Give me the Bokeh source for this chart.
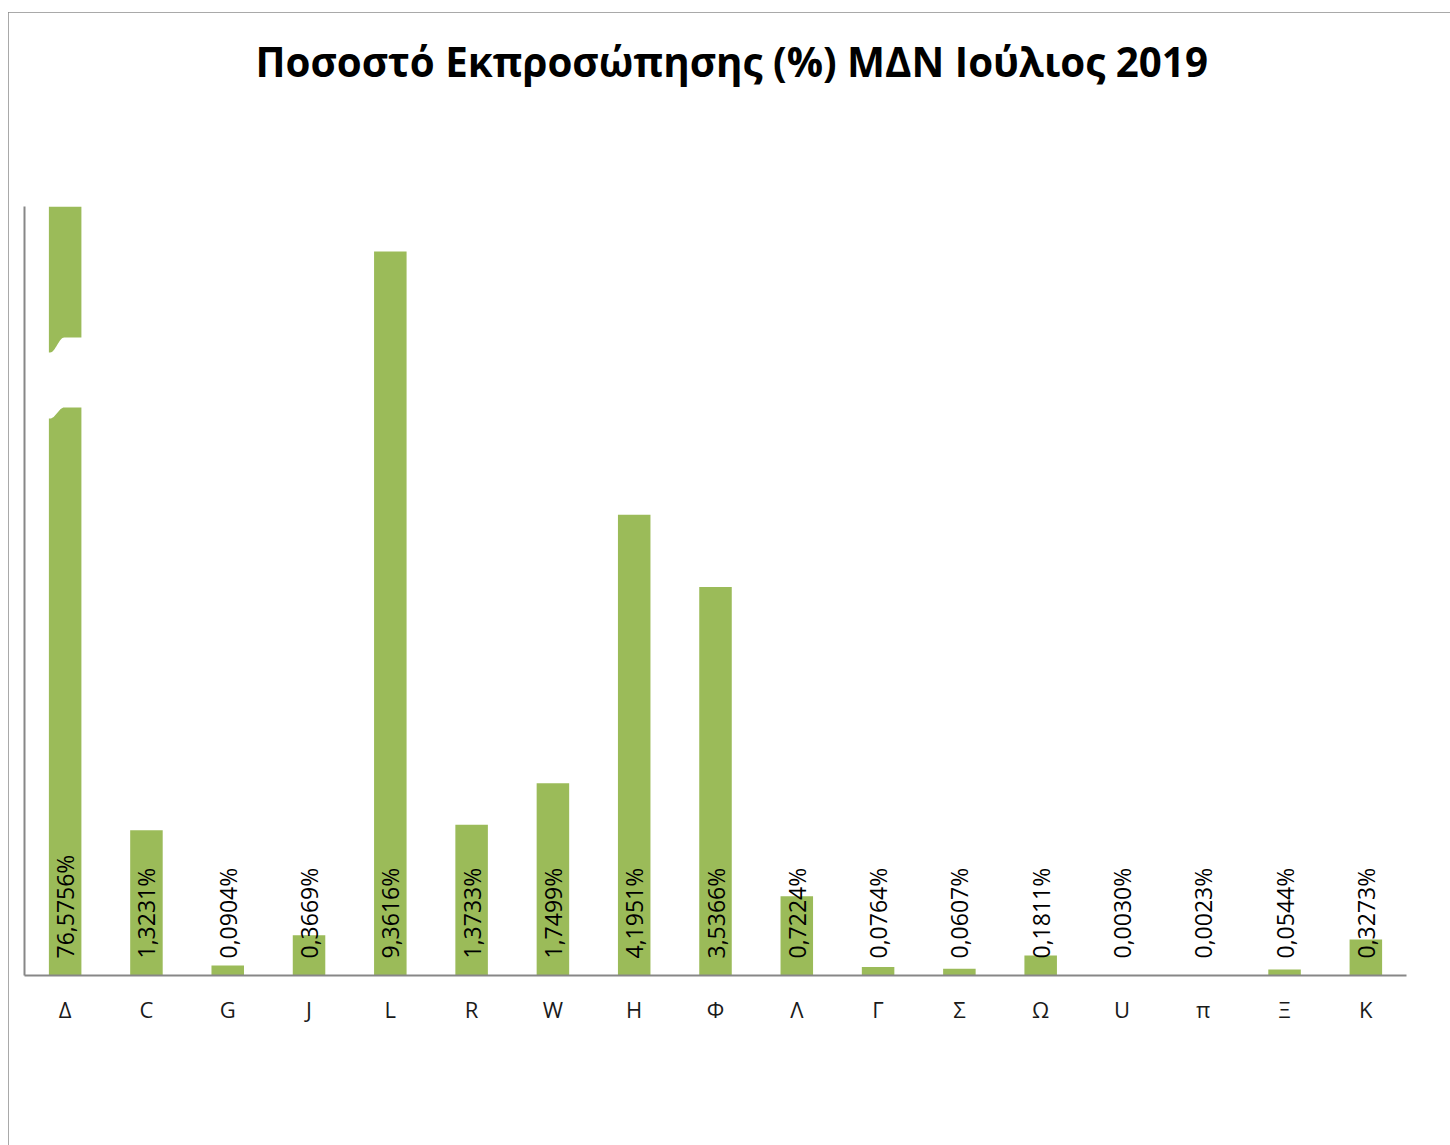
import math
from bokeh.plotting import figure
from bokeh.models import ColumnDataSource, FixedTicker, Range1d
from bokeh.core.properties import value
from bokeh.embed import file_html
from bokeh.resources import INLINE

# ---- data ----
categories = ["Δ", "C", "G", "J", "L", "R", "W", "H", "Φ", "Λ", "Γ", "Σ", "Ω", "U", "π", "Ξ", "K"]
percent_values = [76.5756, 1.3231, 0.0904, 0.3669, 9.3616, 1.3733, 1.7499, 4.1951, 3.5366,
                  0.7224, 0.0764, 0.0607, 0.1811, 0.0030, 0.0023, 0.0544, 0.3273]
# heights as drawn in the picture (axis broken for Δ, L shown truncated)
shown_heights = [76.5756, 1.3231, 0.0904, 0.3669, 6.59, 1.3733, 1.7499, 4.1951, 3.5366,
                 0.7224, 0.0764, 0.0607, 0.1811, 0.0030, 0.0023, 0.0544, 0.3273]
label_texts = [("%.4f%%" % v).replace(".", ",") for v in percent_values]
title_text = "Ποσοστό Εκπροσώπησης (%) ΜΔΝ Ιούλιος 2019"

Y_MAX = 7.0
BAR_COLOR = "#9BBB59"
AXIS_COLOR = "#878787"
FONT = "Open Sans"

idx = list(range(len(categories)))
src = ColumnDataSource(dict(x=idx, top=shown_heights, lab=label_texts))

W, H = 1442, 1133
MB_L, MB_R, MB_T, MB_B = 16, 44, 194, 170
# title followed by blank lines so that it sits near the top of the chart area
p = figure(width=W, height=H, output_backend="svg", toolbar_location=None,
           x_range=Range1d(-0.5, len(categories) - 0.5), y_range=Range1d(0, Y_MAX),
           min_border_left=MB_L, min_border_right=MB_R, min_border_top=MB_T,
           min_border_bottom=MB_B, title=title_text + "\n \n ")
p.margin = (12, 0, 0, 8)
p.styles = {"outline": "2px solid #8c8c8c", "outline-offset": "-2px"}

p.title.align = "left"
p.title.offset = 231
p.title.text_font = FONT
p.title.text_font_size = "40.3px"
p.title.text_font_style = "bold"
p.title.text_color = "#000000"
p.title.standoff = 16

p.grid.visible = False
p.outline_line_color = None
p.background_fill_color = "white"
p.border_fill_color = "white"

# axes
p.yaxis.ticker = FixedTicker(ticks=[])
p.yaxis.major_tick_out = 0
p.yaxis.major_tick_in = 0
p.yaxis.minor_tick_out = 0
p.yaxis.minor_tick_in = 0
p.yaxis.major_label_standoff = 0
p.yaxis.major_label_text_font_size = "0px"
p.yaxis.axis_line_color = AXIS_COLOR
p.yaxis.axis_line_width = 2

p.xaxis.ticker = FixedTicker(ticks=idx)
p.xaxis.major_label_overrides = {i: c for i, c in enumerate(categories)}
p.xaxis.major_tick_out = 0
p.xaxis.major_tick_in = 0
p.xaxis.minor_tick_out = 0
p.xaxis.minor_tick_in = 0
p.xaxis.axis_line_color = AXIS_COLOR
p.xaxis.axis_line_width = 2
p.xaxis.major_label_text_font = FONT
p.xaxis.major_label_text_font_size = "22px"
p.xaxis.major_label_text_color = "#1a1a1a"
p.xaxis.major_label_standoff = 18

# bars
p.vbar(x="x", top="top", bottom=0, width=0.4, source=src, fill_color=BAR_COLOR, line_color=None)

# axis-break symbol on the first bar (white cut), in pixel offsets converted to data units
frame_h = H - MB_T - MB_B
frame_w = W - MB_L - MB_R
px_per_y = frame_h / Y_MAX
px_per_x = frame_w / len(categories)
base_px = 975

def to_data(dx, ypix):
    return 0 + dx / px_per_x, (base_px - ypix) / px_per_y

def s_curve(x0, x1, y0, y1, n=16):
    pts = []
    for k in range(n + 1):
        t = k / n
        pts.append((x0 + (x1 - x0) * t, y0 + (y1 - y0) * (1 - math.cos(math.pi * t)) / 2))
    return pts

poly = [(-19, 352)] + s_curve(-15, -1, 352, 337) + [(19, 337), (19, 407)] + \
       s_curve(-1, -15, 407, 418) + [(-19, 418)]
bx, by = zip(*[to_data(a, b) for a, b in poly])
p.patch(list(bx), list(by), fill_color="white", line_color=None)

# rotated value labels
p.text(x="x", y=0, text="lab", source=src, angle=math.pi / 2, y_offset=-17,
       text_align="left", text_baseline="middle", text_font=value(FONT),
       text_font_size="23px", text_color="#000000")

open("out.html", "w").write(file_html(p, INLINE))
